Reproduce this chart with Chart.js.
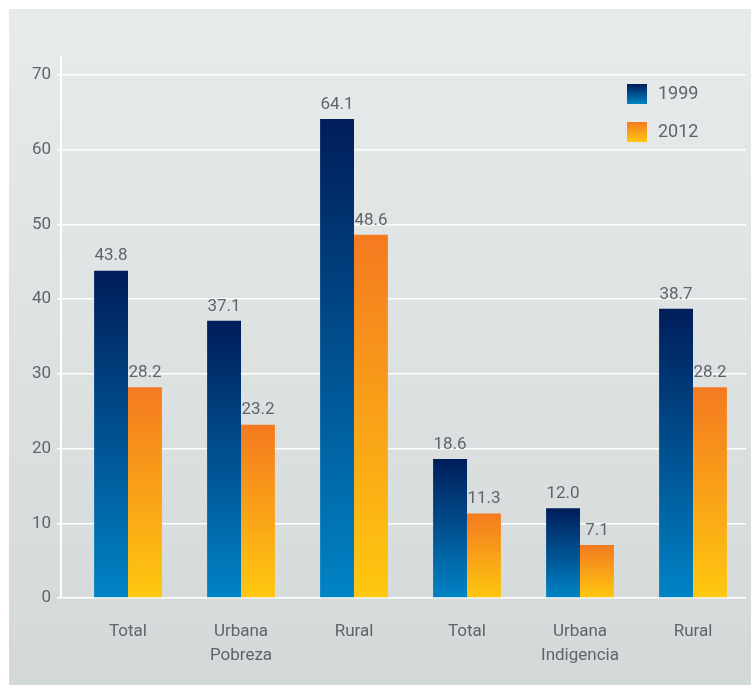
<!DOCTYPE html>
<html>
<head>
<meta charset="utf-8">
<title>Pobreza e indigencia 1999 - 2012</title>
<script src="https://cdn.jsdelivr.net/npm/chart.js@4.4.1/dist/chart.umd.min.js"></script>
<style>
  html, body { margin: 0; padding: 0; background: #fff; }
  #wrap { width: 751px; height: 685px; }
</style>
</head>
<body>
<div id="wrap"><canvas id="myChart" width="751" height="685"></canvas></div>
<script>
const categories = ['Total', ['Urbana', 'Pobreza'], 'Rural', 'Total', ['Urbana', 'Indigencia'], 'Rural'];
const series1999 = [43.8, 37.1, 64.1, 18.6, 12.0, 38.7];
const series2012 = [28.2, 23.2, 48.6, 11.3, 7.1, 28.2];
const seriesLabels = ['1999', '2012'];
const yTicks = [0, 10, 20, 30, 40, 50, 60, 70];

const textColor = '#606469';
const fontFamily = "Roboto, 'Open Sans', sans-serif";

// top -> bottom colour of each series
const barColors = [
    ['#001d5a', '#0084c6'],
    ['#f47a20', '#fec80f']
];

function barGradient(context) {
    const chart = context.chart;
    const y = chart.scales.y;
    if (!y || context.type !== 'data') return barColors[context.datasetIndex][0];
    const top = y.getPixelForValue(context.raw.y);
    const bottom = y.getPixelForValue(0);
    if (!isFinite(top) || !isFinite(bottom) || top === bottom) return barColors[context.datasetIndex][0];
    const g = chart.ctx.createLinearGradient(0, top, 0, bottom);
    g.addColorStop(0, barColors[context.datasetIndex][0]);
    g.addColorStop(1, barColors[context.datasetIndex][1]);
    return g;
}

const panelBackground = {
    id: 'panelBackground',
    beforeDraw(chart) {
        const ctx = chart.ctx;
        ctx.save();
        ctx.fillStyle = '#ffffff';
        ctx.fillRect(0, 0, chart.width, chart.height);
        const g = ctx.createLinearGradient(0, 9, 0, chart.height);
        g.addColorStop(0, '#e7ebeb');
        g.addColorStop(1, '#d3d8d8');
        ctx.fillStyle = g;
        ctx.fillRect(9, 9, chart.width - 9, chart.height - 9);
        ctx.restore();
    }
};

const valueLabels = {
    id: 'valueLabels',
    afterDatasetsDraw(chart) {
        const ctx = chart.ctx;
        ctx.save();
        ctx.font = '17px ' + fontFamily;
        ctx.fillStyle = textColor;
        ctx.textAlign = 'center';
        ctx.textBaseline = 'bottom';
        chart.data.datasets.forEach((ds, i) => {
            chart.getDatasetMeta(i).data.forEach((bar, j) => {
                ctx.fillText(ds.data[j].y.toFixed(1), bar.x, bar.y - 6);
            });
        });
        ctx.restore();
    }
};

const boxLegend = {
    id: 'boxLegend',
    afterDraw(chart) {
        const ctx = chart.ctx;
        ctx.save();
        ctx.font = '18px ' + fontFamily;
        ctx.textAlign = 'left';
        ctx.textBaseline = 'middle';
        chart.data.datasets.forEach((ds, i) => {
            const x = 627, y = 84 + i * 38;
            const g = ctx.createLinearGradient(0, y, 0, y + 20);
            g.addColorStop(0, barColors[i][0]);
            g.addColorStop(1, barColors[i][1]);
            ctx.fillStyle = g;
            ctx.fillRect(x, y, 20, 20);
            ctx.fillStyle = textColor;
            ctx.fillText(ds.label, 658, y + 10);
        });
        ctx.restore();
    }
};

const ctx = document.getElementById('myChart').getContext('2d');
new Chart(ctx, {
    type: 'bar',
    data: {
        datasets: [
            { label: seriesLabels[0], data: series1999.map((v, i) => ({ x: i, y: v })), backgroundColor: barGradient },
            { label: seriesLabels[1], data: series2012.map((v, i) => ({ x: i, y: v })), backgroundColor: barGradient }
        ]
    },
    options: {
        responsive: false,
        animation: false,
        categoryPercentage: 0.6,
        barPercentage: 1,
        layout: { padding: { top: 57, right: 5, left: 0, bottom: 0 } },
        plugins: {
            legend: { display: false },
            tooltip: { enabled: false }
        },
        scales: {
            x: {
                type: 'linear',
                offset: false,
                min: -0.593,
                max: 5.469,
                grid: { display: false },
                border: { display: false },
                afterBuildTicks(scale) { scale.ticks = categories.map((c, i) => ({ value: i })); },
                afterFit(scale) { scale.height = 87; },
                ticks: {
                    color: textColor,
                    padding: 14,
                    maxRotation: 0,
                    autoSkip: false,
                    font: { family: fontFamily, size: 17, lineHeight: 1.4 },
                    callback: (v) => categories[v]
                }
            },
            y: {
                min: 0,
                max: 72.4,
                afterBuildTicks(scale) { scale.ticks = yTicks.map(v => ({ value: v })); },
                afterFit(scale) { scale.width = 61; },
                grid: { color: '#ffffff', lineWidth: 1.5, tickLength: 4, tickColor: '#ffffff' },
                border: { color: '#ffffff', width: 2 },
                ticks: {
                    color: textColor,
                    padding: 6,
                    font: { family: fontFamily, size: 17 }
                }
            }
        }
    },
    plugins: [panelBackground, valueLabels, boxLegend]
});
</script>
</body>
</html>
